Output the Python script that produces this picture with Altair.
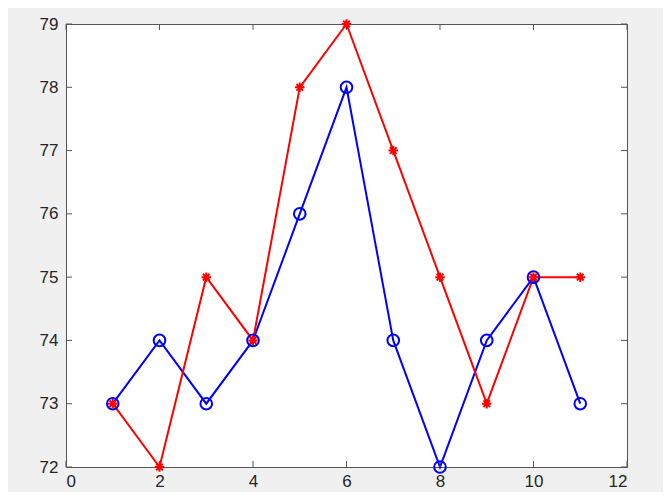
import altair as alt
import pandas as pd

xs = [1, 2, 3, 4, 5, 6, 7, 8, 9, 10, 11]
red_vals = [73, 72, 75, 74, 78, 79, 77, 75, 73, 75, 75]
blue_vals = [73, 74, 73, 74, 76, 78, 74, 72, 74, 75, 73]
x_ticks = [0, 2, 4, 6, 8, 10, 12]
y_ticks = [72, 73, 74, 75, 76, 77, 78, 79]

W, H = 561, 443
df = pd.DataFrame({"x": xs, "red": red_vals, "blue": blue_vals})
xt = pd.DataFrame({"t": x_ticks})
yt = pd.DataFrame({"t": y_ticks})

xsc = alt.Scale(domain=[0, 12], nice=False, zero=False)
ysc = alt.Scale(domain=[72, 79], nice=False, zero=False)
xax = alt.Axis(values=x_ticks, format="d", title=None, labelPadding=6)
yax = alt.Axis(values=y_ticks, format="d", title=None, labelPadding=8)

X = alt.X("x:Q", scale=xsc, axis=xax)
base = alt.Chart(df)

blue_line = base.mark_line(color="#0000ff", strokeWidth=2).encode(x=X, y=alt.Y("blue:Q", scale=ysc, axis=yax))
blue_pts = base.mark_point(shape="circle", filled=False, size=135, strokeWidth=2, color="#0000ff", opacity=1).encode(
    x=X, y=alt.Y("blue:Q", scale=ysc))
asterisk = "M-1,0L1,0M0,-1L0,1M-0.7,-0.7L0.7,0.7M-0.7,0.7L0.7,-0.7"
red_line = base.mark_line(color="#ff0000", strokeWidth=2).encode(x=X, y=alt.Y("red:Q", scale=ysc))
red_pts = base.mark_point(shape=asterisk, filled=False, size=90, strokeWidth=2, color="#ff0000", opacity=1).encode(
    x=X, y=alt.Y("red:Q", scale=ysc))

tick_color = "#555555"
xb = alt.Chart(xt).mark_rule(color=tick_color, strokeWidth=1).encode(
    x=alt.X("t:Q", scale=xsc), y=alt.value(H), y2=alt.value(H - 6))
xtop = alt.Chart(xt).mark_rule(color=tick_color, strokeWidth=1).encode(
    x=alt.X("t:Q", scale=xsc), y=alt.value(0), y2=alt.value(6))
yl = alt.Chart(yt).mark_rule(color=tick_color, strokeWidth=1).encode(
    y=alt.Y("t:Q", scale=ysc), x=alt.value(0), x2=alt.value(6))
yr = alt.Chart(yt).mark_rule(color=tick_color, strokeWidth=1).encode(
    y=alt.Y("t:Q", scale=ysc), x=alt.value(W), x2=alt.value(W - 6))

chart = alt.layer(blue_line, red_line, xb, xtop, yl, yr, blue_pts, red_pts).properties(
    width=W, height=H,
    padding={"left": 58, "top": 16, "right": 36, "bottom": 25},
    autosize="none",
    background="#f0f0f0",
).configure_axis(
    labelFont="Liberation Sans", labelFontSize=17, labelColor="#262626",
    ticks=False, domain=False, grid=False,
).configure_view(
    stroke="#555555", strokeWidth=1, fill="white",
)

chart.save("out.html", embed_options={"renderer": "svg", "actions": False})
